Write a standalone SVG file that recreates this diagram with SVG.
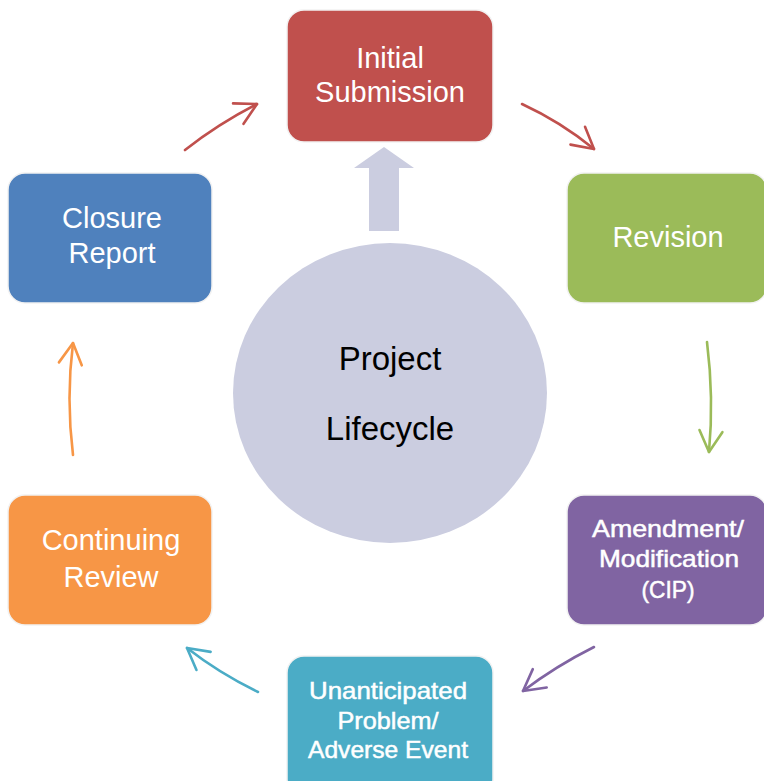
<svg xmlns="http://www.w3.org/2000/svg" width="764" height="781" viewBox="0 0 764 781">
<style>
  .box { stroke: #f2f2f2; stroke-width: 1.5; }
  .lbl { font-family: "Liberation Sans", Arial, sans-serif; fill: #ffffff; text-anchor: middle; }
  .big { font-size: 29px; }
  .small { font-size: 24px; stroke: #ffffff; stroke-width: 0.5; }
  .conn { fill: none; stroke-width: 2.6; stroke-linecap: round; }
  .head { fill: none; stroke-width: 2.6; stroke-linecap: round; stroke-linejoin: round; }
  .center { font-family: "Liberation Sans", Arial, sans-serif; font-size: 33px; fill: #000000; text-anchor: middle; }
</style>
<defs>
  <marker id="mRed" viewBox="0 0 12 12" refX="11" refY="6" markerWidth="12" markerHeight="12" markerUnits="userSpaceOnUse" orient="auto" overflow="visible">
    <path class="head" d="M-10,-5.5 L11,6 L-10,17.5" stroke="#c0504d"/>
  </marker>
  <marker id="mGreen" viewBox="0 0 12 12" refX="11" refY="6" markerWidth="12" markerHeight="12" markerUnits="userSpaceOnUse" orient="auto" overflow="visible">
    <path class="head" d="M-10,-5.5 L11,6 L-10,17.5" stroke="#9bbb59"/>
  </marker>
  <marker id="mPurple" viewBox="0 0 12 12" refX="11" refY="6" markerWidth="12" markerHeight="12" markerUnits="userSpaceOnUse" orient="auto" overflow="visible">
    <path class="head" d="M-10,-5.5 L11,6 L-10,17.5" stroke="#8064a2"/>
  </marker>
  <marker id="mTeal" viewBox="0 0 12 12" refX="11" refY="6" markerWidth="12" markerHeight="12" markerUnits="userSpaceOnUse" orient="auto" overflow="visible">
    <path class="head" d="M-10,-5.5 L11,6 L-10,17.5" stroke="#4bacc6"/>
  </marker>
  <marker id="mOrange" viewBox="0 0 12 12" refX="11" refY="6" markerWidth="12" markerHeight="12" markerUnits="userSpaceOnUse" orient="auto" overflow="visible">
    <path class="head" d="M-10,-5.5 L11,6 L-10,17.5" stroke="#f79646"/>
  </marker>
</defs>
<rect width="764" height="781" fill="#ffffff"/>

<g id="connectors">
  <path class="conn" stroke="#c0504d" d="M185,150 Q218,124 257,104" marker-end="url(#mRed)"/>
  <path class="conn" stroke="#c0504d" d="M522,104 Q561,122 594,149" marker-end="url(#mRed)"/>
  <path class="conn" stroke="#9bbb59" d="M707,342 Q714,398 709,452" marker-end="url(#mGreen)"/>
  <path class="conn" stroke="#8064a2" d="M594,647 Q556,666 523,691" marker-end="url(#mPurple)"/>
  <path class="conn" stroke="#4bacc6" d="M258,692 Q219,673 187,648" marker-end="url(#mTeal)"/>
  <path class="conn" stroke="#f79646" d="M73,455 Q66,398 73,343" marker-end="url(#mOrange)"/>
</g>

<g id="center">
  <polygon points="384,147 414,168 399,168 399,231 369,231 369,168 354,168" fill="#cbcde0"/>
  <ellipse cx="390" cy="393" rx="157" ry="150" fill="#cbcde0"/>
  <text class="center" x="390" y="370">Project</text>
  <text class="center" x="390" y="440">Lifecycle</text>
</g>

<g id="initial-submission">
  <rect class="box" x="287" y="10" width="206" height="132" rx="17" fill="#c0504d"/>
  <text class="lbl big" x="390" y="68">Initial</text>
  <text class="lbl big" x="390" y="102" font-size="30">Submission</text>
</g>

<g id="revision">
  <rect class="box" x="567" y="173" width="200" height="130" rx="17" fill="#9bbb59"/>
  <text class="lbl big" x="668" y="247">Revision</text>
</g>

<g id="amendment">
  <rect class="box" x="567" y="495" width="200" height="130" rx="17" fill="#8064a2"/>
  <text class="lbl small" x="668" y="537" textLength="152" lengthAdjust="spacingAndGlyphs">Amendment/</text>
  <text class="lbl small" x="669" y="567" textLength="140" lengthAdjust="spacingAndGlyphs">Modification</text>
  <text class="lbl small" x="668" y="598" textLength="53" lengthAdjust="spacingAndGlyphs">(CIP)</text>
</g>

<g id="unanticipated">
  <rect class="box" x="287" y="656" width="206" height="140" rx="17" fill="#4bacc6"/>
  <text class="lbl small" x="388" y="699" textLength="158" lengthAdjust="spacingAndGlyphs">Unanticipated</text>
  <text class="lbl small" x="388" y="729" textLength="101" lengthAdjust="spacingAndGlyphs">Problem/</text>
  <text class="lbl small" x="388" y="758" textLength="160" lengthAdjust="spacingAndGlyphs">Adverse Event</text>
</g>

<g id="continuing-review">
  <rect class="box" x="8" y="495" width="204" height="130" rx="17" fill="#f79646"/>
  <text class="lbl big" x="111" y="550" font-size="30">Continuing</text>
  <text class="lbl big" x="111" y="587">Review</text>
</g>

<g id="closure-report">
  <rect class="box" x="8" y="173" width="204" height="130" rx="17" fill="#4f81bd"/>
  <text class="lbl big" x="112" y="228">Closure</text>
  <text class="lbl big" x="112" y="263">Report</text>
</g>
</svg>
